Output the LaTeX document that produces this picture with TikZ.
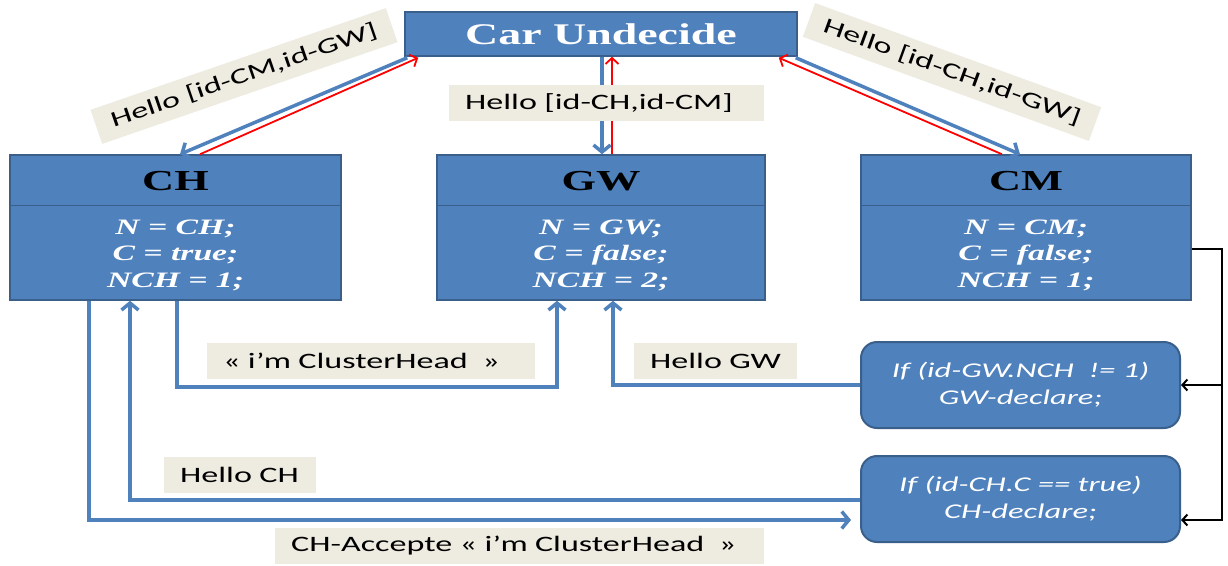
\documentclass[tikz,border=0pt]{standalone}
\usepackage{fontspec}
\usetikzlibrary{arrows.meta,calc}
\newfontfamily\wideserif[FakeStretch=1.53]{Liberation Serif}
\newfontfamily\widesans[FakeStretch=1.55]{Carlito}
\definecolor{boxblue}{HTML}{4F81BD}
\definecolor{boxedge}{HTML}{3A5F8B}
\definecolor{linkblue}{HTML}{4F81BD}
\definecolor{tagbg}{HTML}{EEECE1}
\tikzset{
  carbox/.style={draw=boxedge, line width=1.5pt, fill=boxblue, minimum width=392pt,
    minimum height=44pt, inner sep=0pt, text=white,
    font=\wideserif\bfseries\fontsize{30}{32}\selectfont},
  agent/.style={draw=boxedge, line width=1.5pt, fill=boxblue, minimum width=#1,
    minimum height=145pt, inner sep=0pt},
  agenttitle/.style={text=black, inner sep=0pt,
    font=\wideserif\bfseries\fontsize{29}{30}\selectfont},
  agentbody/.style={text=white, align=center, inner sep=0pt,
    font=\wideserif\bfseries\itshape\fontsize{22}{26.5}\selectfont},
  cond/.style={draw=boxedge, line width=2pt, fill=boxblue, rounded corners=16pt,
    minimum width=319pt, minimum height=86pt, inner sep=0pt, text=white, align=center,
    font=\widesans\itshape\fontsize{21}{27}\selectfont},
  tag/.style={fill=tagbg, inner xsep=16pt, inner ysep=0pt, minimum height=36pt,
    text=black, font=\widesans\fontsize{22}{24}\selectfont},
  ltag/.style={tag, anchor=west, align=left, text width=#1},
  link/.style={draw=linkblue, line width=3.5pt,
    -{Straight Barb[length=7pt,width=17pt]}},
  redlink/.style={draw=red, line width=1.8pt,
    -{Straight Barb[length=6pt,width=13pt]}},
  blk/.style={draw=black, line width=2pt},
  blktip/.style={blk, -{Straight Barb[length=5pt,width=11pt]}}
}
\begin{document}
\begin{tikzpicture}[x=1pt,y=-1pt]
\useasboundingbox (0,0) rectangle (1228,565);

% central undecided car
\node[carbox] (car) at (601,34) {Car Undecide};

% the three role boxes
\node[agent=331pt] (CH) at (175.5,227.5) {};
\node[agent=328pt] (GW) at (601,227.5) {};
\node[agent=330pt] (CM) at (1026,227.5) {};
\foreach \b in {CH,GW,CM}
  \draw[boxedge, line width=1.5pt] ($(\b.north west)+(0,51)$) -- ($(\b.north east)+(0,51)$);

\node[agenttitle] (CHt) at ($(CH.north)+(0,27)$) {CH};
\node[agenttitle] (GWt) at ($(GW.north)+(0,27)$) {GW};
\node[agenttitle] (CMt) at ($(CM.north)+(0,27)$) {CM};
\node[agentbody] (CHb) at ($(CH.north)+(0,101)$) {N = CH;\\C = true;\\NCH = 1;};
\node[agentbody] (GWb) at ($(GW.north)+(0,101)$) {N = GW;\\C = false;\\NCH = 2;};
\node[agentbody] (CMb) at ($(CM.north)+(0,101)$) {N = CM;\\C = false;\\NCH = 1;};

% decision boxes
\node[cond] (gwd) at (1020.5,385) {If (id-GW.NCH~~!= 1)\\GW-declare;};
\node[cond] (chd) at (1020.5,499) {If (id-CH.C == true)\\CH-declare;};

% hello exchange with the undecided car
\draw[link] ($(car.south west)+(3,1)$) -- ($(CH.north)+(4.5,0)$);
\draw[redlink] ($(CH.north)+(24.5,0)$) -- ($(car.south west)+(14,1)$);
\draw[link] ($(car.south)+(1,0)$) -- ($(GW.north)+(1,0)$);
\draw[redlink] ($(GW.north)+(11,0)$) -- ($(car.south)+(11,0)$);
\draw[link] ($(car.south east)+(-2,1)$) -- ($(CM.north)+(-6,0)$);
\draw[redlink] ($(CM.north)+(-24,0)$) -- ($(car.south east)+(-19,1)$);

% messages below the boxes
\draw[link] ($(CH.south)+(1.5,0)$) -- ++(0,86) -| ($(GW.south)+(-44,0)$);
\draw[link] (gwd.west) -| ($(GW.south)+(12,0)$);
\draw[link] ($(chd.west)+(0,1)$) -| ($(CH.south)+(-45.5,0)$);
\draw[link] ($(CH.south)+(-86.5,0)$) |- ($(chd.west)+(-9,21)$);

% CM feeds both decisions
\draw[blktip] ($(CM.east)+(0,21.5)$) -| ($(chd.east)+(41,21)$) -- ($(chd.east)+(0,21)$);
\draw[blktip] ($(gwd.east)+(41,0)$) -- (gwd.east);

% message labels
\node[tag, rotate=19] (hl) at (244,76) {Hello [id-CM,id-GW]};
\node[tag, rotate=-20] (hr) at (952,72) {Hello [id-CH,id-GW]};
\node[ltag=283pt] (hm) at (449,103) {Hello [id-CH,id-CM]};
\node[ltag=296pt] (clh) at (207,360.5) {« i’m ClusterHead~~»};
\node[ltag=131pt] (hgw) at (634,360.5) {Hello GW};
\node[ltag=120pt] (hch) at (164,474.5) {Hello CH};
\node[ltag=457pt] (acc) at (275,546) {CH-Accepte « i’m ClusterHead~~»};
\end{tikzpicture}
\end{document}
